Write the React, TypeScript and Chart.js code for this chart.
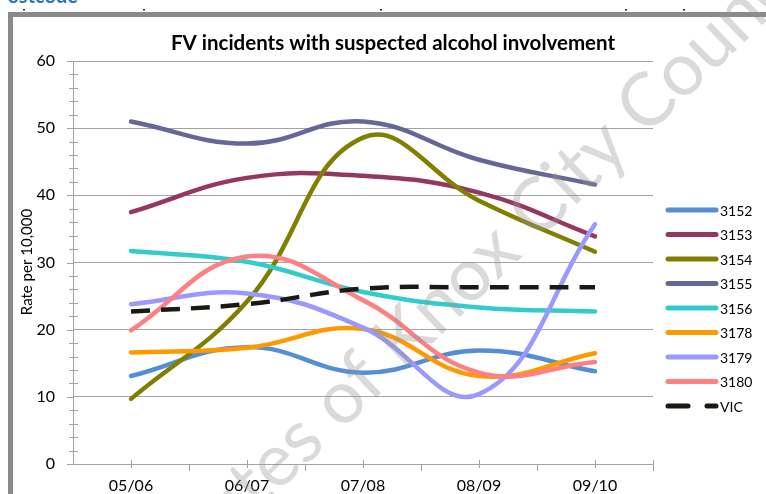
import React, { useEffect, useRef } from "react";
import { Chart, registerables } from "chart.js";
Chart.register(...registerables);

const categories = ["05/06", "06/07", "07/08", "08/09", "09/10"];
const seriesNames = ["3152", "3153", "3154", "3155", "3156", "3178", "3179", "3180", "VIC"];
const v3152 = [13.1, 17.4, 13.6, 16.9, 13.8];
const v3153 = [37.5, 42.6, 42.9, 40.4, 33.9];
const v3154 = [9.7, 24.2, 48.6, 39.2, 31.6];
const v3155 = [51.0, 47.7, 51.0, 45.3, 41.6];
const v3156 = [31.7, 30.1, 25.6, 23.3, 22.7];
const v3178 = [16.6, 17.3, 20.1, 13.1, 16.5];
const v3179 = [23.8, 25.4, 20.3, 10.4, 35.7];
const v3180 = [19.9, 30.9, 24.4, 13.6, 15.2];
const vVIC = [22.7, 23.8, 26.1, 26.3, 26.3];
const seriesValues = [v3152, v3153, v3154, v3155, v3156, v3178, v3179, v3180, vVIC];
const seriesColors = ["#558ed5", "#953760", "#7f7f00", "#666699", "#33cccc", "#ff9900", "#9999ff", "#ff8080", "#1a1a14"];
const yMin = 0;
const yMax = 60;
const yStep = 10;
const yMinorStep = 2;

const titleText = "FV incidents with suspected alcohol involvement";
const yAxisTitle = "Rate per 10,000";
const watermarkText = "Minutes of Knox City Council";
const headerText = "Postcode";

const FONT = "Lato, 'Open Sans', sans-serif";
const GRID = "#a3a3a3";

const decorPlugin = {
  id: "decor",
  beforeDraw(chart: any) {
    const ctx = chart.ctx;
    ctx.save();
    ctx.fillStyle = "#ffffff";
    ctx.fillRect(0, 0, chart.width, chart.height);
    // header remnant
    ctx.fillStyle = "#2e75b6";
    ctx.font = `bold 20px ${FONT}`;
    ctx.textAlign = "right";
    ctx.textBaseline = "alphabetic";
    ctx.fillText(headerText, 78, 3);
    ctx.fillStyle = "#222";
    [23, 143, 380, 625, 683].forEach((x) => ctx.fillRect(x, 9, 2, 1.5));
    // frame
    ctx.strokeStyle = "#8a8a8a";
    ctx.lineWidth = 5;
    ctx.strokeRect(10.5, 14.5, 900, 700);
    ctx.restore();
  },
  afterDatasetsDraw(chart: any) {
    const ctx = chart.ctx;
    const xs = chart.scales.x;
    const ys = chart.scales.y;
    const axisX = chart.chartArea.left;
    const axisY = chart.chartArea.bottom;
    ctx.save();
    ctx.strokeStyle = GRID;
    ctx.lineWidth = 1;
    ctx.beginPath();
    for (let v = yMin; v <= yMax; v += yMinorStep) {
      const y = Math.round(ys.getPixelForValue(v)) + 0.5;
      if (v % yStep === 0) {
        ctx.moveTo(axisX - 6, y);
        ctx.lineTo(axisX, y);
      } else {
        ctx.moveTo(axisX - 4, y);
        ctx.lineTo(axisX + 5, y);
      }
    }
    for (let i = 0; i < categories.length; i++) {
      const xc = Math.round(xs.getPixelForValue(i)) + 0.5;
      ctx.moveTo(xc, axisY - 4);
      ctx.lineTo(xc, axisY + 4);
      const xb = Math.round((xs.getPixelForValue(i) + xs.getPixelForValue(i + 1)) / 2) + 0.5;
      ctx.moveTo(xb, axisY);
      ctx.lineTo(xb, axisY + 7);
    }
    const xr = Math.round(chart.chartArea.right) + 0.5;
    ctx.moveTo(xr, axisY - 4);
    ctx.lineTo(xr, axisY + 7);
    ctx.stroke();
    ctx.restore();
  },
  afterDraw(chart: any) {
    const ctx = chart.ctx;
    ctx.save();
    // title
    ctx.fillStyle = "#000";
    ctx.font = `bold 20.5px ${FONT}`;
    ctx.textAlign = "center";
    ctx.textBaseline = "middle";
    ctx.fillText(titleText, 393, 43);
    // y title
    ctx.save();
    ctx.translate(27, 262);
    ctx.rotate(-Math.PI / 2);
    ctx.font = `15px ${FONT}`;
    ctx.fillText(yAxisTitle, 0, 0);
    ctx.restore();
    // legend
    const ds = chart.data.datasets;
    ctx.font = `14px ${FONT}`;
    ctx.textAlign = "left";
    ctx.textBaseline = "middle";
    ds.forEach((d: any, i: number) => {
      const y = 210 + i * 24.5;
      ctx.strokeStyle = d.borderColor;
      ctx.lineWidth = 5;
      ctx.lineCap = "round";
      ctx.setLineDash(d.label === "VIC" ? [20, 19] : []);
      ctx.beginPath();
      ctx.moveTo(668, y);
      ctx.lineTo(716, y);
      ctx.stroke();
      ctx.setLineDash([]);
      ctx.fillStyle = "#000";
      ctx.fillText(d.label, 720, y + 1);
    });
    // watermark
    ctx.save();
    ctx.font = `74px ${FONT}`;
    const pre = ctx.measureText("Minutes of ").width;
    const kc = ctx.measureText("Knox City").width;
    ctx.translate(501, 244);
    ctx.rotate((-44 * Math.PI) / 180);
    ctx.fillStyle = "rgba(150,150,150,0.35)";
    ctx.textAlign = "left";
    ctx.textBaseline = "middle";
    ctx.fillText(watermarkText, -(pre + kc / 2), 0);
    ctx.restore();
    ctx.restore();
  },
};

export default function App() {
  const ref = useRef<HTMLCanvasElement | null>(null);
  useEffect(() => {
    if (!ref.current) return;
    const n = seriesNames.length;
    const chart = new Chart(ref.current, {
      type: "line",
      data: {
        labels: categories,
        datasets: seriesNames.map((name, i) => ({
          label: name,
          data: seriesValues[i],
          borderColor: seriesColors[i],
          backgroundColor: seriesColors[i],
          borderWidth: 4.5,
          borderDash: name === "VIC" ? [19, 11] : [],
          borderCapStyle: name === "VIC" ? "butt" : "round",
          borderJoinStyle: "round",
          pointRadius: 0,
          pointHoverRadius: 0,
          tension: 0.42,
          fill: false,
          order: n - i,
        })),
      },
      options: {
        responsive: false,
        animation: false,
        devicePixelRatio: 1,
        layout: { padding: { left: 0, top: 61, right: 113, bottom: 0 } },
        plugins: { legend: { display: false }, title: { display: false }, tooltip: { enabled: false } },
        scales: {
          x: {
            offset: true,
            grid: { display: false, drawTicks: false },
            border: { display: true, color: GRID, width: 1 },
            ticks: { color: "#000", font: { family: FONT, size: 16 }, padding: 12, maxRotation: 0 },
            afterFit(scale: any) {
              scale.height = 30;
            },
          },
          y: {
            min: yMin,
            max: yMax,
            grid: { color: GRID, lineWidth: 1, drawTicks: false },
            border: { display: true, color: GRID, width: 1 },
            ticks: { stepSize: yStep, color: "#000", font: { family: FONT, size: 16 }, padding: 18 },
            afterFit(scale: any) {
              scale.width = 73;
            },
          },
        },
      },
      plugins: [decorPlugin],
    });
    return () => chart.destroy();
  }, []);
  return (
    <div style={{ position: "absolute", left: 0, top: 0, width: 766, height: 494 }}>
      <canvas ref={ref} width={766} height={494} style={{ display: "block" }} />
    </div>
  );
}
